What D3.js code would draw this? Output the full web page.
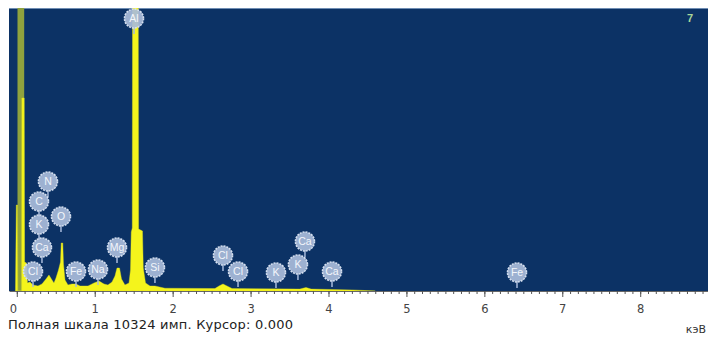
<!DOCTYPE html>
<html>
<head>
<meta charset="utf-8">
<script src="https://cdn.jsdelivr.net/npm/d3@7"></script>
<style>
  body { margin: 0; background: #fff; }
  svg { display: block; font-family: "Liberation Sans", Arial, sans-serif; }
</style>
</head>
<body>
<svg id="chart" width="708" height="337"></svg>
<script>
// EDS spectrum, energy in keV, intensity in counts
const fullScale = 10324;
const cursorKeV = 0;
const spectrumNumber = "7";

const spectrumKeV = [
  -0.017, -0.006, 0.009, 0.013, 0.062, 0.065, 0.095, 0.100, 0.124, 0.137,
  0.169, 0.208, 0.272, 0.323, 0.375, 0.413, 0.452, 0.477, 0.503, 0.535,
  0.561, 0.570, 0.590, 0.599, 0.619, 0.657, 0.708, 0.760, 0.811, 0.914,
  0.991, 1.055, 1.119, 1.170, 1.222, 1.260, 1.286, 1.318, 1.344, 1.388,
  1.440, 1.459, 1.469, 1.482, 1.486, 1.558, 1.563, 1.613, 1.623, 1.652,
  1.709, 1.773, 1.902, 2.543, 2.595, 2.646, 2.697, 2.762, 3.634, 3.711,
  3.776, 4.300, 4.600
];
const spectrumCounts = [
  0, 3137, 3137, 0, 0, 7041, 7041, 1058, 1021, 292,
  328, 219, 182, 255, 438, 584, 401, 292, 474, 766,
  1058, 1751, 1751, 985, 401, 219, 255, 255, 182, 182,
  292, 365, 255, 219, 328, 547, 839, 839, 438, 219,
  292, 766, 2152, 2298, 12000, 12000, 2261, 2189, 839, 292,
  182, 182, 100, 90, 182, 255, 182, 90, 70, 128,
  70, 40, 0
];

// zero-energy strobe peak (olive bar)
const strobeKeV = [0.009, 0.095];
const strobeCounts = 12000;

// element markers: tip position of each pin
const markerNames = ["Al", "N", "C", "K", "O", "Ca", "Cl", "Fe", "Na", "Mg", "Si",
  "Cl", "Cl", "K", "K", "Ca", "Ca", "Fe"];
const markerKeV = [1.504, 0.400, 0.285, 0.285, 0.567, 0.323, 0.208, 0.760, 1.042, 1.286, 1.773,
  2.646, 2.839, 3.326, 3.608, 3.698, 4.045, 6.419];
const markerCounts = [9375, 3429, 2700, 1860, 2152, 1021, 146, 146, 219, 1021, 292,
  730, 146, 109, 401, 1240, 146, 109];

const majorTicks = [0, 1, 2, 3, 4, 5, 6, 7, 8];
const minorTicks = d3.range(0, 89).map(i => i / 10);

const svg = d3.select("#chart");
const plot = { left: 9, right: 708, top: 8, bottom: 291 };

const x = d3.scaleLinear().domain([-0.1, 8.87]).range([plot.left, plot.right]);
const y = d3.scaleLinear().domain([0, fullScale]).range([plot.bottom, plot.top]);

svg.append("defs").append("clipPath").attr("id", "plotClip")
  .append("rect")
    .attr("x", plot.left).attr("y", plot.top)
    .attr("width", plot.right - plot.left).attr("height", plot.bottom - plot.top);

const blur = svg.select("defs").append("filter").attr("id", "soft")
  .attr("x", "-30%").attr("y", "-30%").attr("width", "160%").attr("height", "160%");
blur.append("feGaussianBlur").attr("stdDeviation", 0.6);

svg.append("rect")
  .attr("x", plot.left).attr("y", plot.top)
  .attr("width", plot.right - plot.left).attr("height", plot.bottom - plot.top)
  .attr("fill", "#0c3265");

svg.append("line")
  .attr("x1", plot.left).attr("x2", plot.right)
  .attr("y1", plot.top + 0.5).attr("y2", plot.top + 0.5)
  .attr("stroke", "#6f8db3").attr("stroke-width", 1);

const marks = svg.append("g").attr("clip-path", "url(#plotClip)");

marks.append("rect")
  .attr("x", x(strobeKeV[0]))
  .attr("width", x(strobeKeV[1]) - x(strobeKeV[0]))
  .attr("y", y(strobeCounts))
  .attr("height", y(0) - y(strobeCounts))
  .attr("fill", "#8fa23e");

const spectrum = spectrumKeV.map((e, i) => ({ e: e, c: spectrumCounts[i] }));
const area = d3.area()
  .x(d => x(d.e))
  .y0(y(0))
  .y1(d => y(d.c));

marks.append("path")
  .datum(spectrum)
  .attr("d", area)
  .attr("fill", "#f4f41c")
  .attr("stroke", "#e2e21e")
  .attr("stroke-width", 0.4);

// element pins
const pinRadius = 9.5;
const stemLength = 6;
const markers = markerNames.map((name, i) => ({ name: name, e: markerKeV[i], c: markerCounts[i] }));

const pins = svg.append("g").selectAll("g")
  .data(markers)
  .join("g")
    .attr("transform", d => `translate(${x(d.e)},${y(d.c)})`);

pins.append("line")
  .attr("x1", 0).attr("x2", 0)
  .attr("y1", 0).attr("y2", -stemLength - 1)
  .attr("stroke", "#a7badb").attr("stroke-width", 1.5);

pins.append("circle")
  .attr("cx", 0).attr("cy", -stemLength - pinRadius)
  .attr("r", pinRadius)
  .attr("fill", "#a9bcda")
  .attr("fill-opacity", 0.92)
  .attr("stroke", "#d5dfef")
  .attr("stroke-width", 1.6)
  .attr("stroke-dasharray", "2 1")
  .attr("filter", "url(#soft)");

pins.append("text")
  .attr("x", 0).attr("y", -stemLength - pinRadius)
  .attr("dy", "0.36em")
  .attr("text-anchor", "middle")
  .attr("font-size", 10.5)
  .attr("fill", "#f3f6fb")
  .text(d => d.name);

svg.append("text")
  .attr("x", 693).attr("y", 22)
  .attr("text-anchor", "end")
  .attr("font-size", 11)
  .attr("font-weight", "bold")
  .attr("fill", "#a9d79a")
  .text(spectrumNumber);

// ruler axis
const axisG = svg.append("g").attr("transform", `translate(0,${plot.bottom})`);

axisG.append("g")
  .call(d3.axisBottom(x).tickValues(minorTicks).tickSize(3).tickSizeOuter(0).tickFormat(""))
  .call(g => g.select(".domain").attr("stroke", "#666"))
  .call(g => g.selectAll(".tick line").attr("stroke", "#555"));

axisG.append("g")
  .call(d3.axisBottom(x).tickValues(majorTicks).tickSize(6).tickSizeOuter(0).tickPadding(8).tickFormat(d3.format("d")))
  .call(g => g.select(".domain").remove())
  .call(g => g.selectAll(".tick line").attr("stroke", "#555"))
  .call(g => g.selectAll(".tick text")
    .attr("font-family", "DejaVu Sans, sans-serif")
    .attr("font-size", 11.5)
    .attr("fill", "#444"));

axisG.selectAll(".tick text").filter(d => d === 0).attr("dx", -4);

svg.append("text")
  .attr("x", 8).attr("y", 329)
  .attr("font-family", "DejaVu Sans, sans-serif")
  .attr("font-size", 13)
  .attr("textLength", 285)
  .attr("lengthAdjust", "spacing")
  .attr("fill", "#222")
  .text(`Полная шкала ${fullScale} имп. Курсор: ${cursorKeV.toFixed(3)}`);

svg.append("text")
  .attr("x", 706).attr("y", 333)
  .attr("text-anchor", "end")
  .attr("font-family", "DejaVu Sans, sans-serif")
  .attr("font-size", 11)
  .attr("fill", "#333")
  .text("кэВ");
</script>
</body>
</html>
